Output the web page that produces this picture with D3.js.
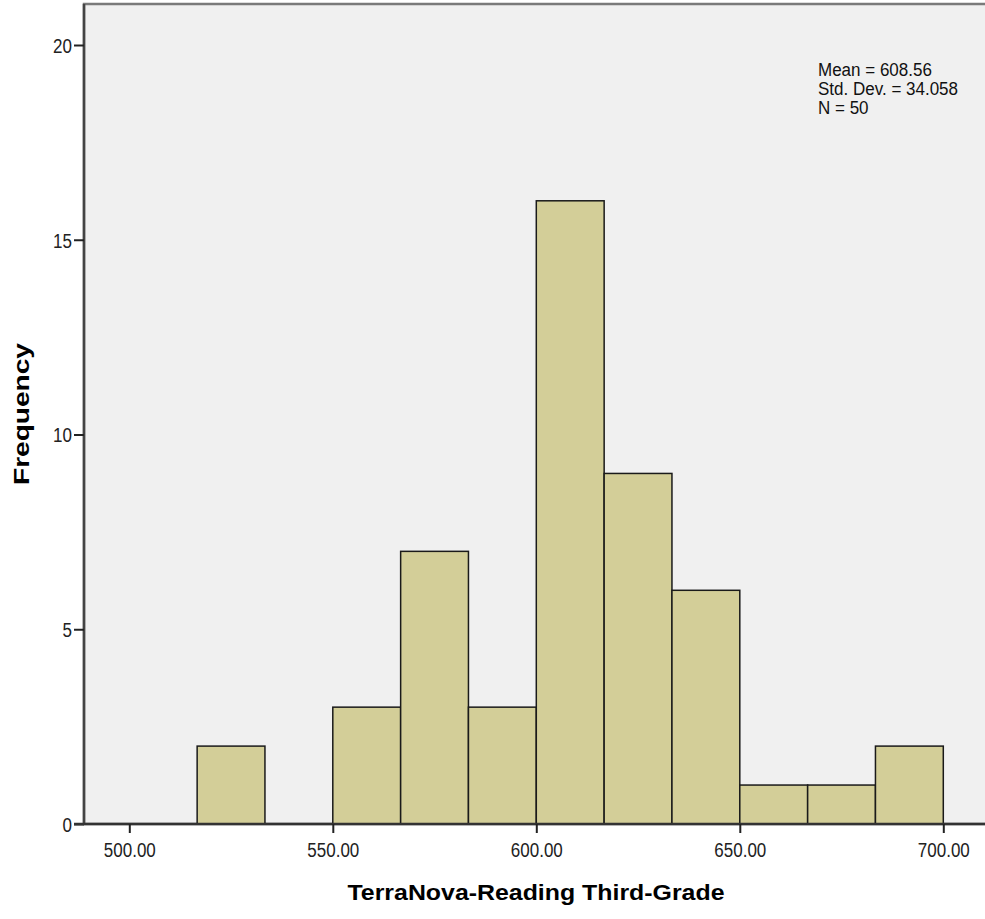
<!DOCTYPE html>
<html><head><meta charset="utf-8">
<script src="https://cdn.jsdelivr.net/npm/d3@7"></script>
<style>body{margin:0;background:#fff;} svg{display:block;} text{font-family:"Liberation Sans",Arial,sans-serif;}</style>
</head><body>
<svg id="c" width="985" height="919"></svg>
<script>
const binStarts = [516.67, 533.33, 550, 566.67, 583.33, 600, 616.67, 633.33, 650, 666.67, 683.33];
const binEnds   = [533.33, 550, 566.67, 583.33, 600, 616.67, 633.33, 650, 666.67, 683.33, 700];
const counts    = [2, 0, 3, 7, 3, 16, 9, 6, 1, 1, 2];
const xTicks = [500, 550, 600, 650, 700];
const yTicks = [0, 5, 10, 15, 20];
const statsLines = ["Mean = 608.56", "Std. Dev. = 34.058", "N = 50"];
const xTitle = "TerraNova-Reading Third-Grade";
const yTitle = "Frequency";

const svg = d3.select("#c");
const plotL = 84, plotT = 4, plotR = 992, plotB = 824;
const x = d3.scaleLinear().domain([500, 700]).range([129.3, 943.3]);
const y = d3.scaleLinear().domain([0, 20]).range([824, 45]);

// tall-narrow text like the reference (vertically stretched glyphs)
function squash(sel, baseSize, tallSize) {
  sel.each(function () {
    const t = d3.select(this).attr("font-size", baseSize);
    const w = this.getComputedTextLength();
    t.attr("font-size", tallSize).attr("textLength", w).attr("lengthAdjust", "spacingAndGlyphs");
  });
}

// plot background
svg.append("rect").attr("x", plotL).attr("y", plotT).attr("width", plotR - plotL).attr("height", plotB - plotT)
  .attr("fill", "#f0f0f0").attr("stroke", "#7a7a7a").attr("stroke-width", 2.5);

// bars
const bins = counts.map((c, i) => ({x0: binStarts[i], x1: binEnds[i], n: c})).filter(d => d.n > 0);
svg.append("g").selectAll("rect").data(bins).join("rect")
  .attr("x", d => x(d.x0)).attr("y", d => y(d.n))
  .attr("width", d => x(d.x1) - x(d.x0)).attr("height", d => y(0) - y(d.n))
  .attr("fill", "#d3ce98").attr("stroke", "#1a1a1a").attr("stroke-width", 1.5);

// y axis
const yAxis = d3.axisLeft(y).tickValues(yTicks).tickSize(10).tickPadding(2).tickFormat(d3.format("d"));
const gy = svg.append("g").attr("transform", `translate(${plotL},0)`).call(yAxis);
gy.select(".domain").attr("stroke", "#444").attr("stroke-width", 2.5).attr("d", `M0,${plotT}V${plotB}`);
gy.selectAll(".tick line").attr("stroke", "#222").attr("stroke-width", 2);
gy.selectAll(".tick text").attr("fill", "#222").attr("dy", "0.36em")
  .attr("font-family", "Liberation Sans, Arial, sans-serif");
squash(gy.selectAll(".tick text"), 17, 20.5);

// x axis
const xAxis = d3.axisBottom(x).tickValues(xTicks).tickSize(9).tickPadding(10).tickFormat(d3.format(".2f"));
const gx = svg.append("g").attr("transform", `translate(0,${plotB})`).call(xAxis);
gx.select(".domain").attr("stroke", "#333").attr("stroke-width", 2.5).attr("d", `M${plotL - 10},0H${plotR}`);
gx.selectAll(".tick line").attr("stroke", "#222").attr("stroke-width", 2);
gx.selectAll(".tick text").attr("fill", "#222")
  .attr("font-family", "Liberation Sans, Arial, sans-serif");
squash(gx.selectAll(".tick text"), 17, 20);

// stats annotation
const st = svg.append("g").selectAll("text").data(statsLines).join("text")
  .attr("x", 818).attr("y", (d, i) => 76 + i * 19)
  .attr("fill", "#111").text(d => d);
squash(st, 17, 18);

// axis titles
svg.append("text").attr("x", 536).attr("y", 900).attr("text-anchor", "middle")
  .attr("font-size", 22).attr("font-weight", "bold").attr("fill", "#000")
  .attr("textLength", 377).attr("lengthAdjust", "spacingAndGlyphs").text(xTitle);
svg.append("text").attr("transform", "translate(29,414) rotate(-90)").attr("text-anchor", "middle")
  .attr("font-size", 22).attr("font-weight", "bold").attr("fill", "#000")
  .attr("textLength", 142).attr("lengthAdjust", "spacingAndGlyphs").text(yTitle);
</script>
</body></html>
